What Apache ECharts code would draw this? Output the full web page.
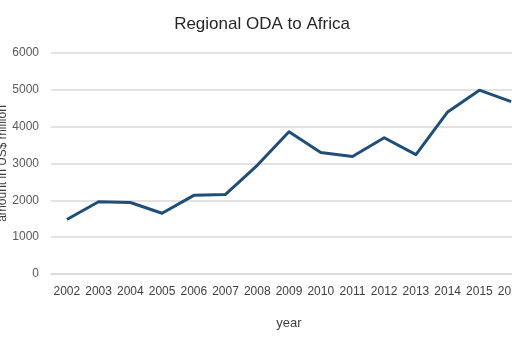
<!DOCTYPE html>
<html>
<head>
<meta charset="utf-8">
<script src="https://cdn.jsdelivr.net/npm/echarts@6/dist/echarts.min.js"></script>
<style>html,body{margin:0;padding:0;background:#fff}#c{width:512px;height:341px}</style>
</head>
<body>
<div id="c"></div>
<script>
const years = ['2002','2003','2004','2005','2006','2007','2008','2009','2010','2011','2012','2013','2014','2015','2016'];
const odaValues = [1480, 1960, 1940, 1650, 2135, 2160, 2950, 3860, 3300, 3190, 3700, 3240, 4400, 4990, 4680];
const yTicks = [0, 1000, 2000, 3000, 4000, 5000, 6000];

const chart = echarts.init(document.getElementById('c'), null, {renderer: 'canvas'});
chart.setOption({
  animation: false,
  title: {
    text: 'Regional ODA to Africa',
    left: 257, top: 11, textAlign: 'center',
    textStyle: {fontFamily: 'Liberation Sans', fontSize: 17, fontWeight: 'normal', color: '#262626'}
  },
  grid: {left: 51, right: -15, top: 53, bottom: 67, containLabel: false, outerBoundsMode: 'none'},
  xAxis: {
    type: 'category',
    data: years,
    boundaryGap: true,
    name: 'year',
    nameLocation: 'middle',
    nameGap: 43,
    nameMoveOverlap: false,
    nameTextStyle: {fontFamily: 'Liberation Sans', fontSize: 13, color: '#404040', verticalAlign: 'top'},
    axisLine: {show: true, lineStyle: {color: '#d9d9d9', width: 1.5}},
    axisTick: {show: false},
    axisLabel: {fontFamily: 'Liberation Sans', fontSize: 12, color: '#404040', margin: 12, interval: 0, hideOverlap: false}
  },
  yAxis: {
    type: 'value',
    min: yTicks[0], max: yTicks[yTicks.length - 1], interval: 1000,
    name: 'amount in US$ million',
    nameLocation: 'middle',
    nameGap: 42,
    nameRotate: 90,
    nameMoveOverlap: false,
    nameTextStyle: {fontFamily: 'Liberation Sans', fontSize: 12, color: '#404040'},
    axisLine: {show: false},
    axisTick: {show: false},
    axisLabel: {fontFamily: 'Liberation Sans', fontSize: 12, color: '#595959', margin: 12, formatter: v => String(v)},
    splitLine: {lineStyle: {color: '#d9d9d9', width: 1.5}}
  },
  series: [{
    type: 'line',
    data: odaValues,
    symbol: 'none',
    lineStyle: {color: '#1f4e79', width: 3, join: 'round'},
    itemStyle: {color: '#1f4e79'}
  }]
});
</script>
</body>
</html>
